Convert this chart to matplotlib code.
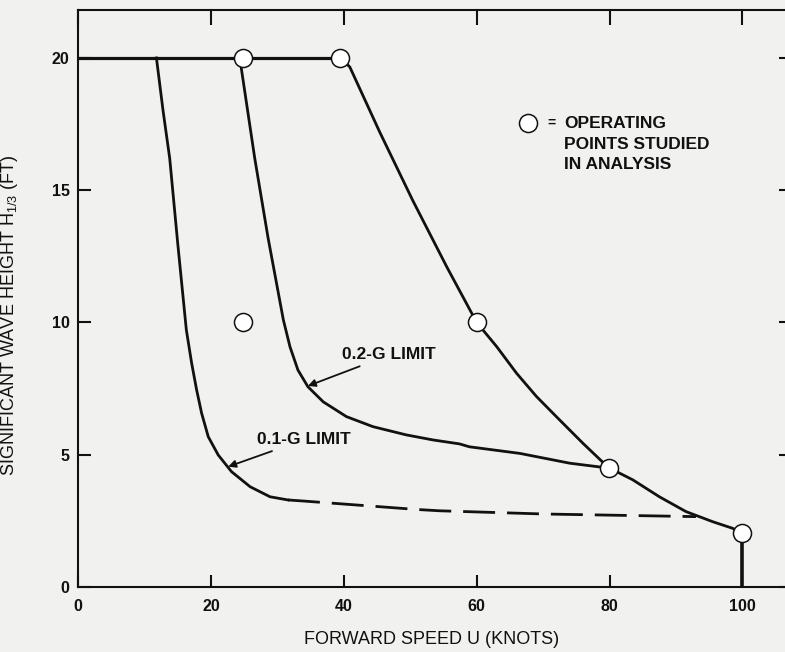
import matplotlib
matplotlib.use('Agg')
import matplotlib.pyplot as plt

plt.rcParams['font.family'] = ['Liberation Sans', 'DejaVu Sans']
plt.rcParams['mathtext.default'] = 'regular'

top_x = [0, 39.5]
top_y = [20, 20]

g01_x = [11.8, 12.8, 13.8, 15.0, 16.3, 17.1, 17.85, 18.6, 19.6, 21.1, 23.1, 25.9, 28.9, 31.6]
g01_y = [20.0, 18.0, 16.2, 13.0, 9.72, 8.46, 7.45, 6.57, 5.68, 4.99, 4.36, 3.79, 3.41, 3.29]

g01_dash_x = [31.6, 33.9, 51.0, 54.5, 70.0, 93.0]
g01_dash_y = [3.29, 3.25, 2.93, 2.88, 2.76, 2.66]

g02_x = [24.4, 26.6, 28.6, 30.9, 31.9, 33.1, 34.6, 36.9, 40.4, 44.4, 49.4, 53.4, 57.4,
         58.9, 66.5, 74.0, 79.7]
g02_y = [19.9, 16.2, 13.2, 10.1, 9.08, 8.2, 7.57, 7.0, 6.44, 6.06, 5.75, 5.56, 5.41,
         5.3, 5.05, 4.68, 4.5]

outer_x = [39.5, 40.9, 45.4, 50.4, 55.5, 60.0, 63.0, 66.0, 69.0, 72.5, 76.0, 79.8,
           83.5, 87.5, 91.5, 95.5, 98.5, 100.0]
outer_y = [20.0, 19.66, 17.2, 14.6, 12.1, 10.0, 9.09, 8.08, 7.2, 6.31, 5.43, 4.52,
           4.05, 3.41, 2.85, 2.47, 2.22, 2.03]

stem_x = [100, 100]
stem_y = [2.03, 0]

# operating points studied
op_x = [24.8, 39.5, 24.8, 60.1, 79.9, 100.0]
op_y = [20.0, 20.0, 10.0, 10.0, 4.5, 2.03]

legend_lines = ['OPERATING', 'POINTS STUDIED', 'IN ANALYSIS']
legend_y = [17.54, 16.71, 15.96]

xticks = [0, 20, 40, 60, 80, 100]
yticks = [0, 5, 10, 15, 20]

bg = '#f1f1ef'
ink = '#111111'

fig = plt.figure(figsize=(7.85, 6.52), dpi=100, facecolor=bg)
ax = fig.add_axes([0.0994, 0.0997, 0.9006, 0.8857], facecolor=bg)

ax.plot(top_x, top_y, color=ink, lw=2.3, solid_capstyle='butt')
ax.plot(g01_x, g01_y, color=ink, lw=2.0, solid_joinstyle='round')
ax.plot(g01_dash_x, g01_dash_y, color=ink, lw=2.0, dashes=(11.5, 4.3))
ax.plot(g02_x, g02_y, color=ink, lw=2.0, solid_joinstyle='round')
ax.plot(outer_x, outer_y, color=ink, lw=2.0, solid_joinstyle='round')
ax.plot(stem_x, stem_y, color=ink, lw=2.6, solid_capstyle='butt')

ax.plot(op_x, op_y, 'o', ms=13, mfc='white', mec=ink, mew=1.1, zorder=5)

# legend for the circles
ax.plot([67.7], [legend_y[0]], 'o', ms=13, mfc='white', mec=ink, mew=1.1)
ax.text(70.6, legend_y[0], '=', fontsize=10, fontweight='bold', va='center', color=ink)
for line, yv in zip(legend_lines, legend_y):
    ax.text(73.2, yv, line, fontsize=12.5, fontweight='bold', va='center',
            ha='left', color=ink)

# limit labels with arrows
ax.annotate('0.2-G LIMIT', xy=(34.6, 7.6), xytext=(39.8, 8.77),
            fontsize=12.5, fontweight='bold', color=ink, va='center', ha='left',
            arrowprops=dict(arrowstyle='-|>', color=ink, lw=1.3, mutation_scale=11,
                            shrinkA=2, shrinkB=0))
ax.annotate('0.1-G LIMIT', xy=(22.6, 4.55), xytext=(26.9, 5.56),
            fontsize=12.5, fontweight='bold', color=ink, va='center', ha='left',
            arrowprops=dict(arrowstyle='-|>', color=ink, lw=1.3, mutation_scale=11,
                            shrinkA=2, shrinkB=0))

ax.set_xlim(0, 106.4)
ax.set_ylim(0, 21.83)
ax.set_xticks(xticks)
ax.set_yticks(yticks)
ax.set_xticklabels([str(v) for v in xticks], fontsize=11.5, fontweight='bold', color=ink)
ax.set_yticklabels([str(v) for v in yticks], fontsize=11.5, fontweight='bold', color=ink)

ax.tick_params(axis='x', direction='in', length=8.5, width=1.5, pad=9, top=True, color=ink)
ax.tick_params(axis='y', direction='in', length=9.5, width=1.5, pad=6, right=True, color=ink)
for t in ax.xaxis.get_major_ticks():
    t.tick2line.set_markersize(11)
for t in ax.yaxis.get_major_ticks():
    t.tick2line.set_markersize(4)

for side in ['left', 'bottom', 'top']:
    ax.spines[side].set_linewidth(1.5)
    ax.spines[side].set_color(ink)
ax.spines['right'].set_visible(False)

ax.set_xlabel('FORWARD SPEED U (KNOTS)', fontsize=13, color=ink, labelpad=12)
ax.set_ylabel('SIGNIFICANT WAVE HEIGHT H$_{1/3}$ (FT)', fontsize=13, color=ink)
ax.yaxis.set_label_coords(-0.082, 0.471)

fig.savefig('out.png', dpi=100, facecolor=bg)
